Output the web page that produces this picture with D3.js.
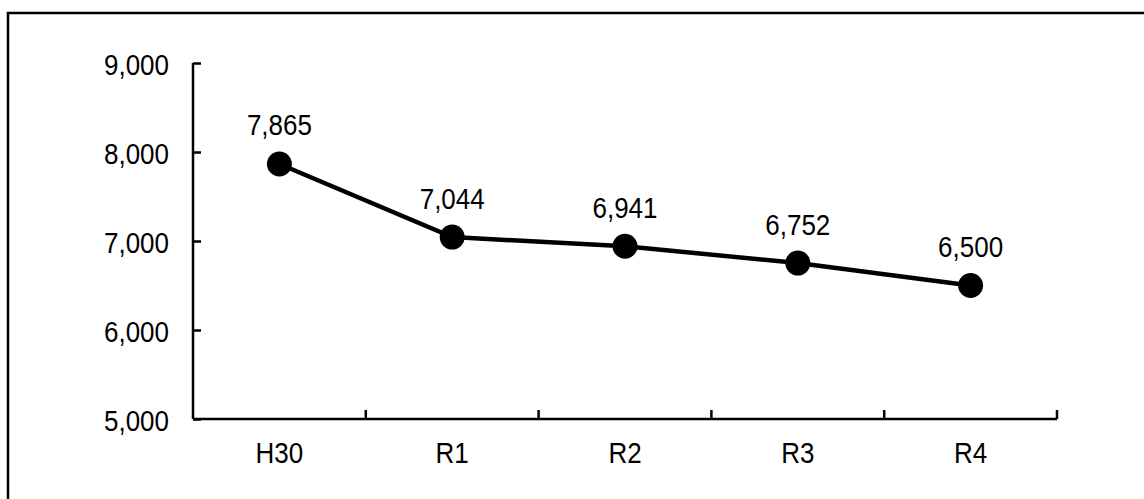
<!DOCTYPE html>
<html><head><meta charset="utf-8">
<script src="https://cdn.jsdelivr.net/npm/d3@7"></script>
<style>body{margin:0;background:#fff;}svg{display:block;}</style>
</head><body>
<svg id="c" width="1144" height="499"></svg>
<script>
const categories = ["H30", "R1", "R2", "R3", "R4"];
const values = [7865, 7044, 6941, 6752, 6500];
const yTicks = [5000, 6000, 7000, 8000, 9000];

const svg = d3.select("#c");
const font = "'Liberation Sans', Arial, sans-serif";
const fs = 26;
const sy = 1.12;

function label(sel, xf, yf, anchor) {
  sel.attr("transform", (d, i) => `translate(${xf(d, i)},${yf(d, i)}) scale(1,${sy})`)
    .attr("dy", "0.36em").attr("text-anchor", anchor)
    .attr("font-family", font).attr("font-size", fs).attr("fill", "#000");
}

svg.append("rect").attr("x", 8).attr("y", 13).attr("width", 1150).attr("height", 500)
  .attr("fill", "none").attr("stroke", "#000").attr("stroke-width", 2.5);

const x = d3.scaleBand().domain(categories).range([193, 1057]);
const y = d3.scaleLinear().domain([5000, 9000]).range([419, 63]);

const yAxis = svg.append("g").attr("transform", "translate(193,0)")
  .call(d3.axisRight(y).tickValues(yTicks).tickSize(8).tickFormat(""));
yAxis.select(".domain").attr("stroke", "#000").attr("stroke-width", 2.5).attr("d", "M0,63V419");
yAxis.selectAll(".tick line").attr("stroke", "#000").attr("stroke-width", 2.5);

svg.append("g").selectAll("text").data(yTicks).join("text")
  .call(label, () => 169, d => y(d) + 2, "end")
  .text(d => d3.format(",")(d));

const xAxis = svg.append("g").attr("transform", "translate(0,419)")
  .call(d3.axisTop(x).tickSize(0).tickFormat(""));
xAxis.select(".domain").attr("stroke", "#000").attr("stroke-width", 2.5).attr("d", "M193,0H1057");
const bounds = categories.map(c => x(c)).concat([x.range()[1]]).slice(1);
xAxis.selectAll(".sep").data(bounds).join("line").attr("class", "sep")
  .attr("x1", d => d).attr("x2", d => d).attr("y1", 0).attr("y2", -9)
  .attr("stroke", "#000").attr("stroke-width", 2.5);

svg.append("g").selectAll("text").data(categories).join("text")
  .call(label, d => x(d) + x.bandwidth() / 2, () => 453, "middle")
  .text(d => d);

const cx = (d, i) => x(categories[i]) + x.bandwidth() / 2;
const line = d3.line().x((d, i) => cx(d, i)).y(d => y(d));
svg.append("path").datum(values).attr("d", line).attr("fill", "none")
  .attr("stroke", "#000").attr("stroke-width", 4.5);

svg.append("g").selectAll("circle").data(values).join("circle")
  .attr("cx", cx).attr("cy", d => y(d)).attr("r", 12.5).attr("fill", "#000");

svg.append("g").selectAll("text").data(values).join("text")
  .call(label, cx, d => y(d) - 39, "middle")
  .text(d => d3.format(",")(d));
</script>
</body></html>
